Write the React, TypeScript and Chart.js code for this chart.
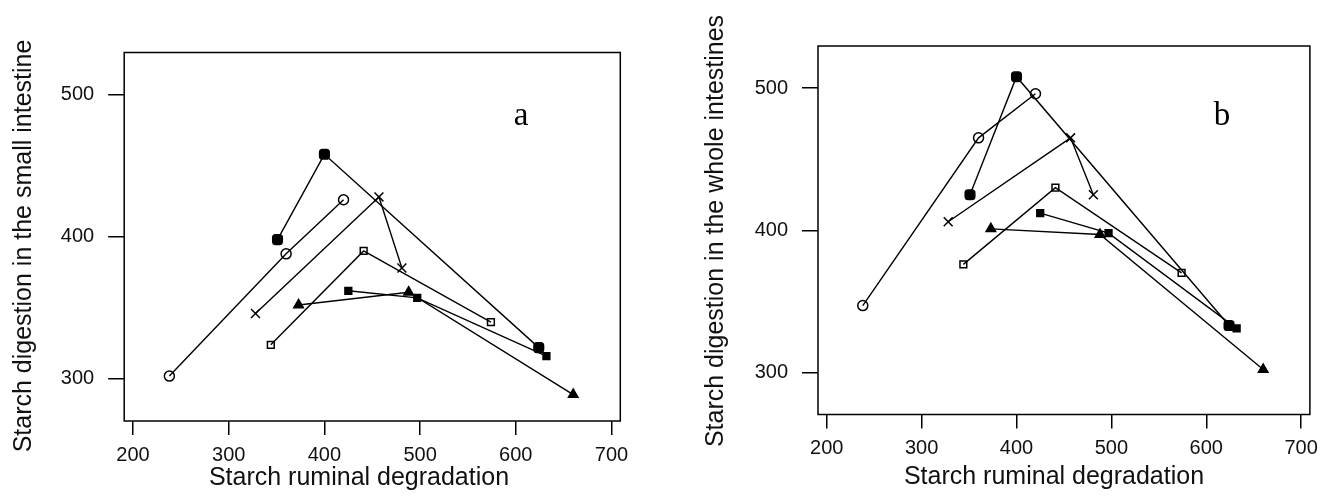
import React, { useEffect, useRef } from "react";
import { Chart, registerables } from "chart.js";

Chart.register(...registerables);

// ---------- data ----------
const xTickValues = [200, 300, 400, 500, 600, 700];
const yTickValues = [300, 400, 500];
const xTitle = "Starch ruminal degradation";
const yTitleA = "Starch digestion in the small intestine";
const yTitleB = "Starch digestion in the whole intestines";
const panelLetterA = "a";
const panelLetterB = "b";

// starch ruminal degradation (x) per series
const xOpenCircle = [238, 360, 420];
const xFilledCircle = [351, 400, 624];
const xCross = [328, 457, 481];
const xOpenSquare = [344, 441, 574];
const xFilledSquare = [425, 497, 632];
const xTriangle = [373, 488, 660];

// panel a: small intestine digestion
const aOpenCircle = [302, 388, 426];
const aFilledCircle = [398, 458, 322];
const aCross = [346, 428, 378];
const aOpenSquare = [324, 390, 340];
const aFilledSquare = [362, 357, 316];
const aTriangle = [352, 361, 289];

// panel b: whole intestines digestion
const bOpenCircle = [347, 465, 496];
const bFilledCircle = [425, 508, 333];
const bCross = [406, 465, 425];
const bOpenSquare = [376, 430, 370];
const bFilledSquare = [412, 398, 331];
const bTriangle = [401, 397, 302];

const xRange = [190.8, 709.2];
const yRange = [270.4, 529.6];

// ---------- styles ----------
type Marker = { style: string; radius: number; fill: string };
const markers: Marker[] = [
  { style: "circle", radius: 5, fill: "rgba(0,0,0,0)" },
  { style: "rectRounded", radius: 5.6, fill: "#000" },
  { style: "crossRot", radius: 6.3, fill: "#000" },
  { style: "rect", radius: 4.8, fill: "rgba(0,0,0,0)" },
  { style: "rect", radius: 4.8, fill: "#000" },
  { style: "triangle", radius: 5.5, fill: "#000" },
];

const SANS = '"Liberation Sans", Arial, Helvetica, sans-serif';
const SERIF = '"Liberation Serif", "Times New Roman", serif';

const toPoints = (xs: number[], ys: number[]) => xs.map((x, i) => ({ x, y: ys[i] }));

const annotatePlugin = {
  id: "annotate",
  afterDraw(chart: any, _args: any, opts: any) {
    const { ctx, chartArea } = chart;
    ctx.save();
    ctx.strokeStyle = "#000";
    ctx.lineWidth = 1.5;
    ctx.strokeRect(
      chartArea.left,
      chartArea.top,
      chartArea.right - chartArea.left,
      chartArea.bottom - chartArea.top
    );
    ctx.fillStyle = "#111";
    ctx.font = `25px ${SANS}`;
    ctx.textAlign = "center";
    ctx.textBaseline = "alphabetic";
    ctx.fillText(opts.xTitle, opts.xTitleX, opts.xTitleY);
    ctx.save();
    ctx.translate(opts.yTitleX, opts.yTitleY);
    ctx.rotate(-Math.PI / 2);
    ctx.fillText(opts.yTitle, 0, 0);
    ctx.restore();
    ctx.fillStyle = "#000";
    ctx.font = `33px ${SERIF}`;
    ctx.fillText(opts.letter, opts.letterX, opts.letterY);
    ctx.restore();
  },
};

type PanelLayout = {
  left: number;
  width: number;
  areaLeft: number;
  areaTop: number;
  areaRight: number;
  areaBottom: number;
  xTitleX: number;
  xTitleY: number;
  yTitleX: number;
  yTitleY: number;
  letterX: number;
  letterY: number;
};

const H = 497;

function Panel({
  layout,
  ys,
  yTitle,
  letter,
}: {
  layout: PanelLayout;
  ys: number[][];
  yTitle: string;
  letter: string;
}) {
  const ref = useRef<HTMLCanvasElement | null>(null);
  useEffect(() => {
    if (!ref.current) return;
    const xs = [xOpenCircle, xFilledCircle, xCross, xOpenSquare, xFilledSquare, xTriangle];
    const datasets = xs.map((xv, i) => ({
      data: toPoints(xv, ys[i]),
      showLine: true,
      borderColor: "#000",
      borderWidth: 1.4,
      pointStyle: markers[i].style as any,
      pointRadius: markers[i].radius,
      pointBackgroundColor: markers[i].fill,
      pointBorderColor: "#000",
      pointBorderWidth: 1.5,
      fill: false,
    }));
    const chart = new Chart(ref.current, {
      type: "scatter",
      data: { datasets },
      plugins: [annotatePlugin],
      options: {
        animation: false,
        responsive: false,
        events: [],
        layout: {
          padding: {
            left: 0,
            top: layout.areaTop,
            right: layout.width - layout.areaRight,
            bottom: 0,
          },
        },
        plugins: {
          legend: { display: false },
          tooltip: { enabled: false },
          annotate: {
            xTitle,
            yTitle,
            letter,
            xTitleX: layout.xTitleX,
            xTitleY: layout.xTitleY,
            yTitleX: layout.yTitleX,
            yTitleY: layout.yTitleY,
            letterX: layout.letterX,
            letterY: layout.letterY,
          },
        } as any,
        scales: {
          x: {
            type: "linear",
            min: xRange[0],
            max: xRange[1],
            afterBuildTicks: (s: any) => {
              s.ticks = xTickValues.map((v) => ({ value: v }));
            },
            afterFit: (s: any) => {
              s.height = H - layout.areaBottom;
            },
            grid: {
              display: true,
              drawOnChartArea: false,
              drawTicks: true,
              tickLength: 14,
              color: "#000",
              lineWidth: 1.5,
            },
            border: { display: false },
            ticks: {
              color: "#111",
              padding: 8,
              maxRotation: 0,
              font: { family: SANS, size: 20 },
              callback: (v: any) => String(v),
            },
          },
          y: {
            type: "linear",
            min: yRange[0],
            max: yRange[1],
            afterBuildTicks: (s: any) => {
              s.ticks = yTickValues.map((v) => ({ value: v }));
            },
            afterFit: (s: any) => {
              s.width = layout.areaLeft;
            },
            grid: {
              display: true,
              drawOnChartArea: false,
              drawTicks: true,
              tickLength: 16,
              color: "#000",
              lineWidth: 1.5,
            },
            border: { display: false },
            ticks: {
              color: "#111",
              padding: 14,
              font: { family: SANS, size: 20 },
              callback: (v: any) => String(v),
            },
          },
        },
      } as any,
    });
    return () => chart.destroy();
  }, [layout, ys, yTitle, letter]);

  return (
    <canvas
      ref={ref}
      width={layout.width}
      height={H}
      style={{
        position: "absolute",
        left: layout.left,
        top: 0,
        width: layout.width,
        height: H,
      }}
    />
  );
}

const layoutA: PanelLayout = {
  left: 0,
  width: 660,
  areaLeft: 124.2,
  areaTop: 52.5,
  areaRight: 620.3,
  areaBottom: 421,
  xTitleX: 359,
  xTitleY: 485,
  yTitleX: 31,
  yTitleY: 246,
  letterX: 521,
  letterY: 125,
};

const layoutB: PanelLayout = {
  left: 660,
  width: 666,
  areaLeft: 158,
  areaTop: 46,
  areaRight: 657,
  areaBottom: 414.5,
  xTitleX: 394,
  xTitleY: 484,
  yTitleX: 63,
  yTitleY: 231,
  letterX: 562,
  letterY: 125,
};

const ysA = [aOpenCircle, aFilledCircle, aCross, aOpenSquare, aFilledSquare, aTriangle];
const ysB = [bOpenCircle, bFilledCircle, bCross, bOpenSquare, bFilledSquare, bTriangle];

export default function App() {
  return (
    <div
      style={{
        position: "absolute",
        left: 0,
        top: 0,
        width: 1326,
        height: H,
        background: "#fff",
        overflow: "hidden",
      }}
    >
      <Panel layout={layoutA} ys={ysA} yTitle={yTitleA} letter={panelLetterA} />
      <Panel layout={layoutB} ys={ysB} yTitle={yTitleB} letter={panelLetterB} />
    </div>
  );
}
